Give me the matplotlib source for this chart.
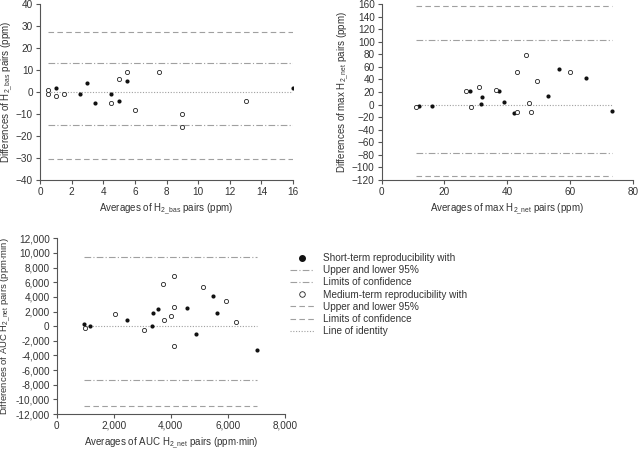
import numpy as np
import matplotlib
matplotlib.use("Agg")
import matplotlib.pyplot as plt
from matplotlib.lines import Line2D
from matplotlib.ticker import FuncFormatter

plt.rcParams["font.family"] = ["Liberation Sans", "DejaVu Sans"]
plt.rcParams["mathtext.fontset"] = "custom"
plt.rcParams["mathtext.rm"] = "Liberation Sans"
plt.rcParams["font.size"] = 6.8

# panel A: baseline H2
bas_short_x = [1, 2.5, 3, 3.5, 4.5, 5, 5.5, 16]
bas_short_y = [2, -1, 4, -5, -1, -4, 5, 2]
bas_med_x = [0.5, 0.5, 1, 1.5, 4.5, 5, 5.5, 6, 7.5, 9, 9, 13]
bas_med_y = [1, -1, -2, -1, -5, 6, 9, -8, 9, -10, -16, -4]
bas_limits_short = [13.4, -15.1]
bas_limits_med = [27.1, -30.4]

# panel B: max H2 net
max_short_x = [12, 16, 28, 31.5, 32, 37.5, 39, 42, 53, 56.5, 65, 73.5]
max_short_y = [-2, -2, 22, 1, 12, 21, 4, -14, 14, 57, 42, -10]
max_med_x = [11, 27, 28.5, 31, 36.5, 43, 43, 46, 47, 47.5, 49.5, 60]
max_med_y = [-4, 22, -4, 28, 23, 52, -11, 79, 2, -12, 37, 52]
max_limits_short = [103.5, -77.5]
max_limits_med = [157, -113.5]

# panel C: AUC H2 net
auc_short_x = [970, 1180, 2450, 3360, 3370, 3540, 4580, 4880, 5480, 5620, 7030]
auc_short_y = [300, 50, 800, 50, 1800, 2400, 2450, -1050, 4100, 1850, -3250]
auc_med_x = [1000, 2050, 3050, 3720, 3750, 4000, 4100, 4100, 4100, 5120, 5940, 6280]
auc_med_y = [-250, 1650, -550, 5700, 800, 1450, 2600, -2700, 6900, 5300, 3400, 600]
auc_limits_short = [9500, -7350]
auc_limits_med = [13500, -10860]

line_col = "#a0a0a0"
spine_col = "#555555"
txt_col = "#333333"
ls_dashdot = (0, (6, 2, 1, 2))
ls_dashed = (0, (5, 3))
ls_dotted = (0, (1, 1.5))
lab_fs = 7.0


def bland_altman(ax, sx, sy, mx, my, lim_s, lim_m):
    allx = sx + mx
    x0, x1 = min(allx), max(allx)
    for v in lim_s:
        ax.plot([x0, x1], [v, v], color=line_col, lw=0.8, ls=ls_dashdot)
    for v in lim_m:
        ax.plot([x0, x1], [v, v], color=line_col, lw=0.8, ls=ls_dashed)
    ax.plot([x0, x1], [0, 0], color=line_col, lw=0.8, ls=ls_dotted)
    ax.scatter(sx, sy, s=9, color="#111111", zorder=3, linewidths=0)
    ax.scatter(mx, my, s=9, facecolors="white", edgecolors="#222222",
               linewidths=0.6, zorder=3)
    for s in ["top", "right"]:
        ax.spines[s].set_visible(False)
    for s in ["left", "bottom"]:
        ax.spines[s].set_color(spine_col)
        ax.spines[s].set_linewidth(0.8)
    ax.tick_params(colors=spine_col, labelcolor=txt_col, length=3, width=0.8,
                   labelsize=7.2, pad=2)


fig = plt.figure(figsize=(6.39, 4.5), dpi=100)

ax1 = fig.add_axes([0.0626, 0.6, 0.396, 0.391])
bland_altman(ax1, bas_short_x, bas_short_y, bas_med_x, bas_med_y,
             bas_limits_short, bas_limits_med)
ax1.set_xlim(0, 16)
ax1.set_ylim(-40, 40)
ax1.set_xticks(np.arange(0, 17, 2))
ax1.set_yticks(np.arange(-40, 41, 10))
ax1.set_xlabel(r"Averages of H$_{\mathregular{2\_bas}}$ pairs (ppm)", color=txt_col, fontsize=lab_fs, labelpad=3)
ax1.set_ylabel(r"Differences of H$_{\mathregular{2\_bas}}$ pairs (ppm)", color=txt_col, fontsize=lab_fs, labelpad=1)

ax2 = fig.add_axes([0.5973, 0.6, 0.393, 0.391])
bland_altman(ax2, max_short_x, max_short_y, max_med_x, max_med_y,
             max_limits_short, max_limits_med)
ax2.set_xlim(0, 80)
ax2.set_ylim(-120, 160)
ax2.set_xticks(np.arange(0, 81, 20))
ax2.set_yticks(np.arange(-120, 161, 20))
ax2.set_xlabel(r"Averages of max H$_{\mathregular{2\_net}}$ pairs (ppm)", color=txt_col, fontsize=lab_fs, labelpad=3)
ax2.set_ylabel(r"Differences of max H$_{\mathregular{2\_net}}$ pairs (ppm)", color=txt_col, fontsize=lab_fs, labelpad=1)

ax3 = fig.add_axes([0.0887, 0.08, 0.357, 0.3904])
bland_altman(ax3, auc_short_x, auc_short_y, auc_med_x, auc_med_y,
             auc_limits_short, auc_limits_med)
ax3.set_xlim(0, 8000)
ax3.set_ylim(-12000, 12000)
ax3.set_xticks(np.arange(0, 8001, 2000))
ax3.set_yticks(np.arange(-12000, 12001, 2000))
fmt = FuncFormatter(lambda v, p: f"{int(v):,}")
ax3.xaxis.set_major_formatter(fmt)
ax3.yaxis.set_major_formatter(fmt)
ax3.set_xlabel(r"Averages of AUC H$_{\mathregular{2\_net}}$ pairs (ppm$\cdot$min)", color=txt_col, fontsize=lab_fs, labelpad=3)
ax3.set_ylabel(r"Differences of AUC H$_{\mathregular{2\_net}}$ pairs (ppm$\cdot$min)", color=txt_col, fontsize=6.8, labelpad=0)
ax3.yaxis.set_label_coords(-0.19, 0.5)

handles = [
    Line2D([], [], ls="none", marker="o", ms=4, color="#111111"),
    Line2D([], [], color=line_col, lw=0.8, ls=ls_dashdot),
    Line2D([], [], color=line_col, lw=0.8, ls=ls_dashdot),
    Line2D([], [], ls="none", marker="o", ms=4, mfc="white", mec="#222222", mew=0.6),
    Line2D([], [], color=line_col, lw=0.8, ls=ls_dashed),
    Line2D([], [], color=line_col, lw=0.8, ls=ls_dashed),
    Line2D([], [], color=line_col, lw=0.8, ls=ls_dotted),
]
labels = ["Short-term reproducibility with", "Upper and lower 95%",
          "Limits of confidence", "Medium-term reproducibility with",
          "Upper and lower 95%", "Limits of confidence", "Line of identity"]
leg = fig.legend(handles, labels, loc="upper left", bbox_to_anchor=(290 / 639, 1 - 253 / 450),
                 frameon=False, borderpad=0, handlelength=2.4, handletextpad=0.9,
                 labelspacing=0.22, fontsize=7.2, borderaxespad=0)
for t in leg.get_texts():
    t.set_color(txt_col)

fig.savefig("out.png", dpi=100)
